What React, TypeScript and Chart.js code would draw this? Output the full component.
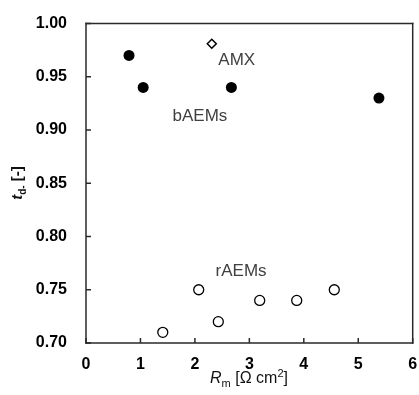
import React, { useEffect, useRef } from "react";
import { Chart, registerables } from "chart.js";

Chart.register(...registerables);

const bAEMx = [0.79, 1.05, 2.67, 5.38];
const bAEMy = [0.97, 0.94, 0.94, 0.93];
const amxX = [2.31];
const amxY = [0.981];
const rAEMx = [1.41, 2.07, 2.43, 3.19, 3.87, 4.56];
const rAEMy = [0.71, 0.75, 0.72, 0.74, 0.74, 0.75];
const xTicks = [0, 1, 2, 3, 4, 5, 6];
const yTicks = [0.7, 0.75, 0.8, 0.85, 0.9, 0.95, 1.0];
const labelTexts = ["AMX", "bAEMs", "rAEMs"];
const labelX = [2.43, 1.59, 2.38];
const labelY = [0.961, 0.908, 0.763];

const FONT = "Arial, 'Liberation Sans', sans-serif";

const decor = {
  id: "decor",
  afterDraw(chart: any) {
    const ctx = chart.ctx;
    const { left, right, top, bottom } = chart.chartArea;
    const xs = chart.scales.x;
    const ys = chart.scales.y;
    ctx.save();
    ctx.setLineDash([]);
    ctx.globalAlpha = 1;
    ctx.fillStyle = "#2a2a2a";
    const lw = 1.5;
    // box
    ctx.fillRect(left - lw / 2, top - lw / 2, right - left + lw, lw);
    ctx.fillRect(left - lw / 2, bottom - lw / 2, right - left + lw, lw);
    ctx.fillRect(left - lw / 2, top - lw / 2, lw, bottom - top + lw);
    ctx.fillRect(right - lw / 2, top - lw / 2, lw, bottom - top + lw);
    // inward ticks
    xTicks.forEach((v) => {
      const px = xs.getPixelForValue(v);
      ctx.fillRect(px - lw / 2, bottom - 5, lw, 5);
    });
    yTicks.forEach((v) => {
      const py = ys.getPixelForValue(v);
      ctx.fillRect(left, py - lw / 2, 5, lw);
    });
    // annotations
    ctx.fillStyle = "#404040";
    ctx.font = `17px ${FONT}`;
    ctx.textAlign = "left";
    ctx.textBaseline = "alphabetic";
    labelTexts.forEach((t, i) => {
      ctx.fillText(t, xs.getPixelForValue(labelX[i]), ys.getPixelForValue(labelY[i]));
    });
    // x title
    ctx.fillStyle = "#111";
    const parts: [string, string, number][] = [
      ["R", `italic 16px ${FONT}`, 0],
      ["m", `11px ${FONT}`, 4],
      [" [Ω cm", `16px ${FONT}`, 0],
      ["2", `11px ${FONT}`, -6],
      ["]", `16px ${FONT}`, 0],
    ];
    let w = 0;
    parts.forEach(([t, f]) => {
      ctx.font = f;
      w += ctx.measureText(t).width;
    });
    let x0 = 249 - w / 2;
    parts.forEach(([t, f, dy]) => {
      ctx.font = f;
      ctx.fillText(t, x0, 383 + dy);
      x0 += ctx.measureText(t).width;
    });
    // y title
    ctx.translate(22, 183);
    ctx.rotate(-Math.PI / 2);
    const yparts: [string, string, number][] = [
      ["t", `italic bold 15px ${FONT}`, 0],
      ["d-", `bold 10px ${FONT}`, 4],
      [" [-]", `bold 15px ${FONT}`, 0],
    ];
    w = 0;
    yparts.forEach(([t, f]) => {
      ctx.font = f;
      w += ctx.measureText(t).width;
    });
    x0 = -w / 2;
    yparts.forEach(([t, f, dy]) => {
      ctx.font = f;
      ctx.fillText(t, x0, dy);
      x0 += ctx.measureText(t).width;
    });
    ctx.restore();
  },
};

export default function App() {
  const ref = useRef<HTMLCanvasElement>(null);
  useEffect(() => {
    const chart = new Chart(ref.current!, {
      type: "scatter",
      data: {
        datasets: [
          {
            label: "bAEMs",
            data: bAEMx.map((x, i) => ({ x, y: bAEMy[i] })),
            pointStyle: "circle",
            pointRadius: 5.5,
            backgroundColor: "#000",
            borderColor: "#000",
            borderWidth: 0,
          },
          {
            label: "AMX",
            data: amxX.map((x, i) => ({ x, y: amxY[i] })),
            pointStyle: "rectRot",
            pointRadius: 4.5,
            backgroundColor: "#fff",
            borderColor: "#000",
            borderWidth: 1.5,
          },
          {
            label: "rAEMs",
            data: rAEMx.map((x, i) => ({ x, y: rAEMy[i] })),
            pointStyle: "circle",
            pointRadius: 5,
            backgroundColor: "#fff",
            borderColor: "#000",
            borderWidth: 1.3,
          },
        ],
      },
      options: {
        animation: false,
        responsive: false,
        layout: { padding: { top: 23.5, right: 6, left: 0, bottom: 0 } },
        plugins: { legend: { display: false }, tooltip: { enabled: false } },
        scales: {
          x: {
            type: "linear",
            min: 0,
            max: 6,
            afterFit: (s: any) => {
              s.height = 52;
              s.paddingLeft = 0;
              s.paddingRight = 0;
            },
            grid: { display: false, drawTicks: false },
            border: { display: false },
            ticks: {
              stepSize: 1,
              padding: 12,
              color: "#000",
              font: { family: FONT, size: 16, weight: "bold" },
            },
          },
          y: {
            type: "linear",
            min: 0.7,
            max: 1.0,
            afterFit: (s: any) => {
              s.width = 86;
              s.paddingTop = 0;
              s.paddingBottom = 0;
            },
            afterBuildTicks: (s: any) => {
              s.ticks = yTicks.map((v) => ({ value: v }));
            },
            grid: { display: false, drawTicks: false },
            border: { display: false },
            ticks: {
              padding: 19,
              color: "#000",
              font: { family: FONT, size: 16, weight: "bold" },
              callback: (v: any) => Number(v).toFixed(2),
            },
          },
        },
      },
      plugins: [decor],
    });
    return () => chart.destroy();
  }, []);
  return (
    <div style={{ position: "fixed", left: 0, top: 0, width: 419, height: 395, background: "#fff" }}>
      <canvas ref={ref} width={419} height={395} style={{ width: 419, height: 395 }} />
    </div>
  );
}
